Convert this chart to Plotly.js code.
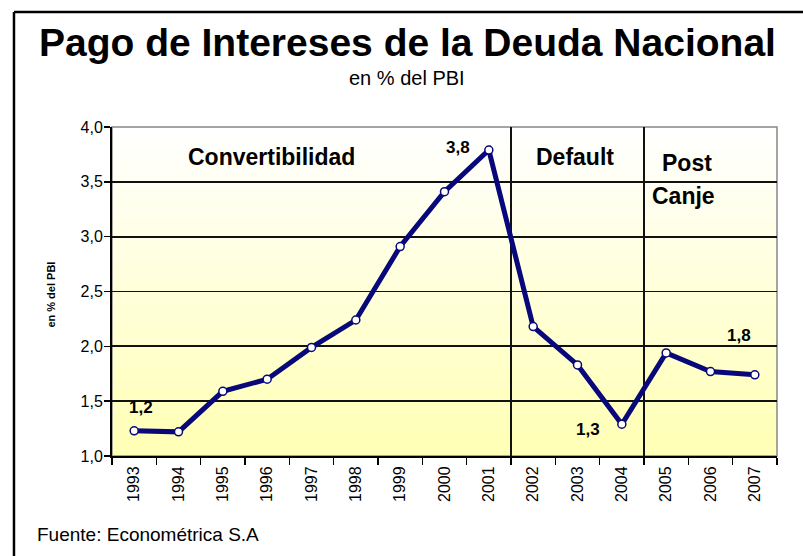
<!DOCTYPE html>
<html>
<head>
<meta charset="utf-8">
<script src="https://cdn.plot.ly/plotly-3.0.1.min.js"></script>
<style>
  body { margin: 0; background: #fff; }
  #plot { width: 803px; height: 556px; }
</style>
</head>
<body>
<div id="plot"></div>
<script>
// data
var years = ["1993", "1994", "1995", "1996", "1997", "1998", "1999", "2000",
             "2001", "2002", "2003", "2004", "2005", "2006", "2007"];
var pago = [1.23, 1.22, 1.59, 1.70, 1.99, 2.24, 2.91, 3.41,
            3.79, 2.18, 1.83, 1.29, 1.94, 1.77, 1.74];

// value labels written on the chart
var labelText = ["1,2", "3,8", "1,3", "1,8"];
var labelX = [0.16, 7.3, 10.23, 13.65];
var labelY = [1.44, 3.81, 1.24, 2.10];

// period names
var periodText = ["Convertibilidad", "Default", "Post", "Canje"];
var periodX = [3.09, 9.94, 12.48, 12.39];
var periodY = [3.73, 3.73, 3.67, 3.37];
var periodBreaks = [8.5, 11.5];

let trace1 = {
  x: years,
  y: pago,
  type: "scatter",
  mode: "lines+markers",
  line: {color: "#08087a", width: 5},
  marker: {symbol: "circle", size: 8, color: "#ffffff",
           line: {color: "#08087a", width: 1.5}},
  hoverinfo: "x+y"
};

// gradient background: white at top to pale yellow at bottom
let shapes = [];
let bands = 60;
for (let i = 0; i < bands; i++) {
  let t = i / (bands - 1);
  let b = Math.round(180 + (255 - 180) * t);
  shapes.push({
    type: "rect", xref: "paper", yref: "paper",
    x0: 0, x1: 1, y0: i / bands, y1: (i + 1) / bands + 0.001,
    fillcolor: "rgb(255,255," + b + ")", line: {width: 0}, layer: "below"
  });
}
// separators between periods
periodBreaks.forEach(function (xb) {
  shapes.push({type: "line", xref: "x", yref: "y", x0: xb, x1: xb, y0: 1, y1: 4,
               line: {color: "#111", width: 2}, layer: "below"});
});
// plot border on the right and top
shapes.push({type: "rect", xref: "paper", yref: "paper", x0: 0, x1: 1, y0: 0, y1: 1,
             line: {color: "#888", width: 1.5}, layer: "below"});
// outer frame (top and left only)
shapes.push({type: "line", xref: "paper", yref: "paper", x0: -0.1474, x1: 1.1, y0: 1.3495, y1: 1.3495,
             line: {color: "#000", width: 2.5}});
shapes.push({type: "line", xref: "paper", yref: "paper", x0: -0.1474, x1: -0.1474, y0: -0.35, y1: 1.3495,
             line: {color: "#000", width: 2.5}});

let ff = "Liberation Sans, Arial";
let annotations = [];
labelText.forEach(function (t, i) {
  annotations.push({x: labelX[i], y: labelY[i], xref: "x", yref: "y", text: t, showarrow: false,
                    xanchor: "center", yanchor: "middle",
                    font: {family: ff, size: 17, color: "#000", weight: "bold"}});
});
periodText.forEach(function (t, i) {
  annotations.push({x: periodX[i], y: periodY[i], xref: "x", yref: "y", text: t, showarrow: false,
                    xanchor: "center", yanchor: "middle",
                    font: {family: ff, size: 23, color: "#000", weight: "bold"}});
});
annotations.push({x: 0.444, y: 1.258, xref: "paper", yref: "paper", showarrow: false,
                  xanchor: "center", yanchor: "middle",
                  text: "Pago de Intereses de la Deuda Nacional",
                  font: {family: ff, size: 39, color: "#000", weight: "bold"}});
annotations.push({x: 0.444, y: 1.149, xref: "paper", yref: "paper", showarrow: false,
                  xanchor: "center", yanchor: "middle",
                  text: "en % del PBI",
                  font: {family: ff, size: 20, color: "#000"}});
annotations.push({x: -0.092, y: 0.49, xref: "paper", yref: "paper", showarrow: false,
                  xanchor: "center", yanchor: "middle",
                  text: "en % del PBI", textangle: -90,
                  font: {family: ff, size: 11, color: "#000", weight: "bold"}});
annotations.push({x: -0.116, y: -0.24, xref: "paper", yref: "paper", showarrow: false,
                  xanchor: "left", yanchor: "middle", text: "Fuente: Econométrica S.A",
                  font: {family: ff, size: 19, color: "#000"}});

let layout = {
  width: 803,
  height: 556,
  margin: {l: 112, r: 26, t: 127, b: 100},
  paper_bgcolor: "#ffffff",
  plot_bgcolor: "rgba(0,0,0,0)",
  separators: ",.",
  showlegend: false,
  font: {family: ff, color: "#000"},
  xaxis: {
    type: "category",
    tickson: "boundaries",
    ticks: "outside",
    ticklen: 7,
    tickwidth: 1.5,
    tickcolor: "#000",
    tickangle: -90,
    tickfont: {size: 16, color: "#000"},
    ticklabelstandoff: 2,
    showgrid: false,
    showline: true,
    linecolor: "#000",
    linewidth: 2,
    range: [-0.5, 14.5],
    fixedrange: true
  },
  yaxis: {
    range: [1, 4],
    dtick: 0.5,
    tickformat: ".1f",
    ticks: "outside",
    ticklen: 6,
    tickwidth: 1.5,
    tickcolor: "#000",
    tickfont: {size: 16, color: "#000"},
    ticklabelstandoff: -2,
    showgrid: true,
    gridcolor: "#111",
    gridwidth: 1.8,
    showline: true,
    linecolor: "#000",
    linewidth: 2,
    zeroline: false,
    fixedrange: true
  },
  shapes: shapes,
  annotations: annotations
};

Plotly.newPlot("plot", [trace1], layout, {displayModeBar: false, staticPlot: true});
</script>
</body>
</html>
